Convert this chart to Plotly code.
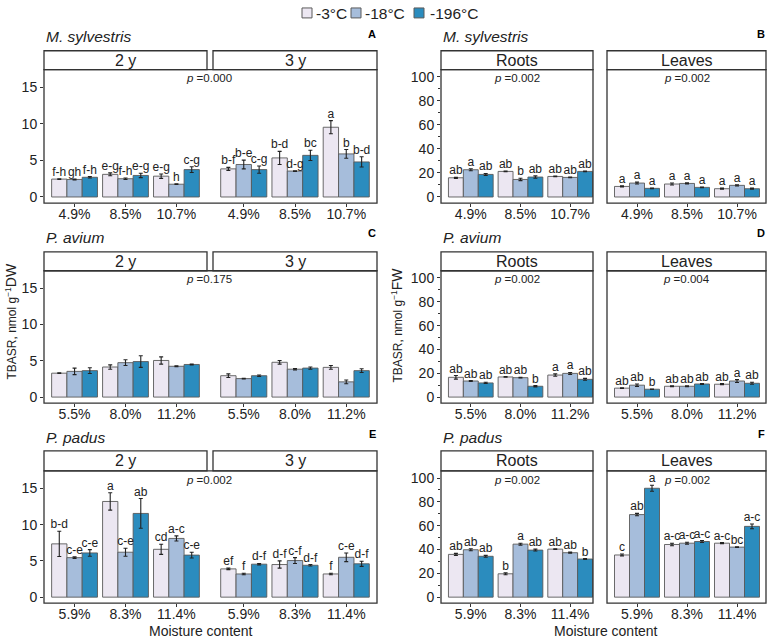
import plotly.graph_objects as go

W, H = 768, 642
temps = ["-3°C", "-18°C", "-196°C"]
colors = ["#ECE7F2", "#A6BDDB", "#2B8CBE"]

moist_msyl = ["4.9%", "8.5%", "10.7%"]
moist_pav = ["5.5%", "8.0%", "11.2%"]
moist_ppad = ["5.9%", "8.3%", "11.4%"]

# ---- Panel A: M. sylvestris seeds (outer index = temperature, inner = moisture)
A_2y_mean = [[2.45, 3.1, 2.85], [2.4, 2.5, 1.75], [2.7, 2.95, 3.75]]
A_2y_err = [[0.05, 0.2, 0.3], [0.05, 0.1, 0.05], [0.1, 0.3, 0.4]]
A_2y_lab = [["f-h", "e-g", "e-g"], ["gh", "f-h", "h"], ["f-h", "e-g", "c-g"]]
A_3y_mean = [[3.85, 5.35, 9.55], [4.45, 3.55, 5.9], [3.75, 5.7, 4.8]]
A_3y_err = [[0.2, 0.9, 0.9], [0.6, 0.05, 0.6], [0.5, 0.7, 0.7]]
A_3y_lab = [["b-f", "b-d", "a"], ["b-e", "d-g", "b"], ["c-g", "bc", "b-d"]]

# ---- Panel B: M. sylvestris seedlings
B_roots_mean = [[16.0, 21.3, 17.1], [22.7, 14.6, 16.3], [18.8, 16.6, 21.3]]
B_roots_err = [[0.5, 0.3, 0.3], [0.8, 1.0, 0.3], [0.8, 1.0, 0.3]]
B_roots_lab = [["ab", "ab", "ab"], ["a", "b", "ab"], ["ab", "ab", "ab"]]
B_leaves_mean = [[8.8, 10.8, 6.9], [11.6, 11.3, 9.7], [7.2, 8.0, 6.9]]
B_leaves_err = [[0.5, 0.8, 0.5], [0.8, 0.5, 0.5], [0.3, 0.3, 0.5]]
B_leaves_lab = [["a", "a", "a"], ["a", "a", "a"], ["a", "a", "a"]]

# ---- Panel C: P. avium seeds
C_2y_mean = [[3.3, 4.15, 5.05], [3.55, 4.75, 4.25], [3.65, 4.9, 4.5]]
C_2y_err = [[0.05, 0.3, 0.5], [0.45, 0.4, 0.05], [0.4, 0.8, 0.05]]
C_3y_mean = [[2.95, 4.8, 4.1], [2.55, 3.85, 2.1], [2.95, 4.0, 3.65]]
C_3y_err = [[0.25, 0.25, 0.25], [0.05, 0.1, 0.25], [0.1, 0.15, 0.25]]

# ---- Panel D: P. avium seedlings
D_roots_mean = [[16.6, 16.9, 18.5], [13.5, 16.3, 19.9], [11.9, 9.1, 14.9]]
D_roots_err = [[1.5, 0.3, 1.0], [0.3, 0.3, 0.8], [0.5, 0.5, 0.8]]
D_roots_lab = [["ab", "ab", "a"], ["ab", "ab", "a"], ["ab", "b", "ab"]]
D_leaves_mean = [[7.5, 9.1, 10.8], [10.0, 9.1, 13.5], [6.6, 11.0, 11.6]]
D_leaves_err = [[0.3, 0.3, 0.5], [1.0, 0.3, 1.2], [0.2, 0.3, 0.8]]
D_leaves_lab = [["ab", "ab", "ab"], ["ab", "ab", "a"], ["b", "ab", "ab"]]

# ---- Panel E: P. padus seeds
E_2y_mean = [[7.35, 13.2, 6.6], [5.45, 6.2, 8.1], [6.1, 11.55, 5.8]]
E_2y_err = [[1.75, 1.2, 0.7], [0.1, 0.55, 0.35], [0.45, 2.05, 0.4]]
E_2y_lab = [["b-d", "a", "cd"], ["c-e", "c-e", "a-c"], ["c-e", "ab", "c-e"]]
E_3y_mean = [[3.9, 4.5, 3.2], [3.2, 5.05, 5.5], [4.55, 4.4, 4.6]]
E_3y_err = [[0.1, 0.5, 0.1], [0.1, 0.4, 0.6], [0.1, 0.1, 0.35]]
E_3y_lab = [["ef", "d-f", "f"], ["f", "c-f", "c-e"], ["d-f", "d-f", "d-f"]]

# ---- Panel F: P. padus seedlings
F_roots_mean = [[35.9, 19.6, 40.3], [39.8, 44.5, 37.3], [34.3, 39.5, 32.0]]
F_roots_err = [[0.8, 0.8, 0.3], [0.8, 0.8, 0.5], [0.8, 0.8, 0.3]]
F_roots_lab = [["ab", "b", "ab"], ["ab", "a", "ab"], ["ab", "ab", "b"]]
F_leaves_mean = [[35.4, 44.2, 45.3], [69.3, 45.3, 42.0], [91.4, 46.7, 59.4]]
F_leaves_err = [[0.8, 1.0, 0.5], [1.0, 0.8, 0.3], [2.5, 0.8, 2.0]]
F_leaves_lab = [["c", "a-c", "a-c"], ["ab", "a-c", "bc"], ["a", "a-c", "a-c"]]

species = ["M. sylvestris", "P. avium", "P. padus"]
p_seeds = ["0.000", "0.175", "0.002"]
p_roots = ["0.002", "0.002", "0.002"]
p_leaves = ["0.002", "0.004", "0.002"]

panels = [
    dict(row=0, col=0, letter="A", cats=moist_msyl, strips=["2 y", "3 y"],
         facets=[(A_2y_mean, A_2y_err, A_2y_lab), (A_3y_mean, A_3y_err, A_3y_lab)],
         pvals=[p_seeds[0]]),
    dict(row=0, col=1, letter="B", cats=moist_msyl, strips=["Roots", "Leaves"],
         facets=[(B_roots_mean, B_roots_err, B_roots_lab), (B_leaves_mean, B_leaves_err, B_leaves_lab)],
         pvals=[p_roots[0], p_leaves[0]]),
    dict(row=1, col=0, letter="C", cats=moist_pav, strips=["2 y", "3 y"],
         facets=[(C_2y_mean, C_2y_err, None), (C_3y_mean, C_3y_err, None)],
         pvals=[p_seeds[1]]),
    dict(row=1, col=1, letter="D", cats=moist_pav, strips=["Roots", "Leaves"],
         facets=[(D_roots_mean, D_roots_err, D_roots_lab), (D_leaves_mean, D_leaves_err, D_leaves_lab)],
         pvals=[p_roots[1], p_leaves[1]]),
    dict(row=2, col=0, letter="E", cats=moist_ppad, strips=["2 y", "3 y"],
         facets=[(E_2y_mean, E_2y_err, E_2y_lab), (E_3y_mean, E_3y_err, E_3y_lab)],
         pvals=[p_seeds[2]]),
    dict(row=2, col=1, letter="F", cats=moist_ppad, strips=["Roots", "Leaves"],
         facets=[(F_roots_mean, F_roots_err, F_roots_lab), (F_leaves_mean, F_leaves_err, F_leaves_lab)],
         pvals=[p_roots[2], p_leaves[2]]),
]

# ---- layout geometry (pixels)
FACET_X = {0: [(44, 207), (213, 377)], 1: [(441, 593), (607, 766)]}
FACET_RANGE = {0: [(-0.6, 2.6), (-0.6, 2.6)], 1: [(-0.6, 2.46), (-0.6, 2.58)]}
ROW_Y = [(50, 69, 203), (252, 271, 404), (452, 472, 605)]  # strip top, panel top, panel bottom
TITLE_Y = [36, 238, 439]
LETTER_Y = [33, 233, 435]
P_Y = [77, 279, 481]
Y_RANGE = {0: [-0.83, 17.43], 1: [-5.05, 106.05]}

FONT = "Arial, Liberation Sans, sans-serif"
INK = "#222222"
BORDER = "#333333"


def fx(px):
    return px / W


def fy(py):
    return 1 - py / H


fig = go.Figure()
shapes = []
annotations = []
layout_axes = {}

bw = 0.3
for pi, pn in enumerate(panels):
    r, c = pn["row"], pn["col"]
    st, pt, pb = ROW_Y[r]
    yname = f"y{pi + 1}" if pi > 0 else "y"
    ykey = f"yaxis{pi + 1}" if pi > 0 else "yaxis"
    for fi, (means, errs, labs) in enumerate(pn["facets"]):
        xn = pi * 2 + fi + 1
        xname = f"x{xn}" if xn > 1 else "x"
        xkey = f"xaxis{xn}" if xn > 1 else "xaxis"
        x0, x1 = FACET_X[c][fi]
        layout_axes[xkey] = dict(
            domain=[fx(x0), fx(x1)], anchor=yname, range=list(FACET_RANGE[c][fi]),
            tickvals=[0, 1, 2], ticktext=pn["cats"], ticks="outside", ticklen=3,
            tickcolor=BORDER, tickwidth=1, showline=False, showgrid=False, zeroline=False,
            ticklabelstandoff=-5,
            tickfont=dict(size=14, color=INK, family=FONT), fixedrange=True,
        )
        for k in range(3):
            xs = [i + (k - 1) * bw for i in range(3)]
            fig.add_trace(go.Bar(
                x=xs, y=means[k], width=bw, name=temps[k], legendgroup=temps[k],
                showlegend=False,
                marker=dict(color=colors[k], line=dict(color="#5a5a5a", width=0.9)),
                error_y=dict(type="data", array=errs[k], color="#222222", thickness=1.1, width=2),
                xaxis=xname, yaxis=yname,
            ))
            if labs is not None:
                fig.add_trace(go.Scatter(
                    x=xs, y=[m + e for m, e in zip(means[k], errs[k])], text=labs[k],
                    mode="text", textposition="top center",
                    textfont=dict(size=12, color=INK, family=FONT),
                    showlegend=False, hoverinfo="skip", xaxis=xname, yaxis=yname,
                ))
        # strip
        shapes.append(dict(type="rect", xref="paper", yref="paper",
                           x0=fx(x0), x1=fx(x1), y0=fy(pt), y1=fy(st),
                           fillcolor="white", line=dict(color=BORDER, width=1.3), layer="above"))
        annotations.append(dict(text=pn["strips"][fi], xref="paper", yref="paper",
                                x=fx((x0 + x1) / 2), y=fy((st + pt) / 2), showarrow=False,
                                xanchor="center", yanchor="middle",
                                font=dict(size=16, color=INK, family=FONT)))
        if c == 1:
            shapes.append(dict(type="rect", xref="paper", yref="paper",
                               x0=fx(x0), x1=fx(x1), y0=fy(pb), y1=fy(pt),
                               line=dict(color=BORDER, width=1.3), layer="above"))
            annotations.append(dict(text=f"<i>p</i> ={pn['pvals'][fi]}", xref="paper", yref="paper",
                                    x=fx((x0 + x1) / 2), y=fy(P_Y[r]), showarrow=False,
                                    xanchor="center", yanchor="middle",
                                    font=dict(size=11.5, color=INK, family=FONT)))
    xl = FACET_X[c][0][0]
    xr = FACET_X[c][1][1]
    if c == 0:
        shapes.append(dict(type="rect", xref="paper", yref="paper",
                           x0=fx(xl), x1=fx(xr), y0=fy(pb), y1=fy(pt),
                           line=dict(color=BORDER, width=1.3), layer="above"))
        annotations.append(dict(text=f"<i>p</i> ={pn['pvals'][0]}", xref="paper", yref="paper",
                                x=fx(209), y=fy(P_Y[r]), showarrow=False,
                                xanchor="center", yanchor="middle",
                                font=dict(size=11.5, color=INK, family=FONT)))
    ydict = dict(
        domain=[fy(pb), fy(pt)], anchor=("x" if pi == 0 else f"x{pi * 2 + 1}"),
        range=Y_RANGE[c], ticks="outside", ticklen=3, tickcolor=BORDER, tickwidth=1,
        showline=False, showgrid=False, zeroline=False, fixedrange=True,
        tickfont=dict(size=14, color=INK, family=FONT),
    )
    if c == 0:
        ydict["tickvals"] = [0, 5, 10, 15]
    else:
        ydict["tickvals"] = [0, 20, 40, 60, 80, 100]
        ydict["minor"] = dict(tickvals=[10, 30, 50, 70, 90], ticks="outside", ticklen=2,
                              tickcolor=BORDER)
    layout_axes[ykey] = ydict
    # species title
    annotations.append(dict(text=f"<i>{species[r]}</i>", xref="paper", yref="paper",
                            x=fx(xl), y=fy(TITLE_Y[r]), showarrow=False,
                            xanchor="left", yanchor="middle",
                            font=dict(size=15.5, color=INK, family=FONT)))
    annotations.append(dict(text=f"<b>{pn['letter']}</b>", xref="paper", yref="paper",
                            x=fx(xr + 1), y=fy(LETTER_Y[r]), showarrow=False,
                            xanchor="right", yanchor="middle",
                            font=dict(size=11, color="#000000", family=FONT)))

# legend (drawn as keys + labels at the top)
LEG_SQ_X = [302, 351, 414]
for k in range(3):
    sx = LEG_SQ_X[k]
    shapes.append(dict(type="rect", xref="paper", yref="paper",
                       x0=fx(sx), x1=fx(sx + 10), y0=fy(17), y1=fy(7),
                       fillcolor=colors[k], line=dict(color="#5a5a5a", width=1)))
    annotations.append(dict(text=temps[k], xref="paper", yref="paper",
                            x=fx(sx + 11.5 + (2 if k == 2 else 0)), y=fy(12.5), showarrow=False,
                            xanchor="left", yanchor="middle",
                            font=dict(size=15.5, color=INK, family=FONT)))

# axis titles
annotations.append(dict(text="TBASR, nmol g<sup>−1</sup><span style='font-size:14px'>DW</span>",
                        xref="paper", yref="paper", x=fx(11), y=fy(322), showarrow=False,
                        textangle=-90, xanchor="center", yanchor="middle",
                        font=dict(size=12, color=INK, family=FONT)))
annotations.append(dict(text="TBASR, nmol g<sup>−1</sup><span style='font-size:14px'>FW</span>",
                        xref="paper", yref="paper", x=fx(397), y=fy(326), showarrow=False,
                        textangle=-90, xanchor="center", yanchor="middle",
                        font=dict(size=12, color=INK, family=FONT)))
for xc in (201, 606):
    annotations.append(dict(text="Moisture content", xref="paper", yref="paper",
                            x=fx(xc), y=fy(633), showarrow=False,
                            xanchor="center", yanchor="middle",
                            font=dict(size=14, color=INK, family=FONT)))

fig.update_layout(
    width=W, height=H, autosize=False,
    margin=dict(l=0, r=0, t=0, b=0),
    paper_bgcolor="white", plot_bgcolor="white",
    barmode="overlay", showlegend=False,
    font=dict(family=FONT, color=INK),
    shapes=shapes, annotations=annotations,
    **layout_axes,
)

fig.write_html("out.html", config={"displayModeBar": False},
               post_script="document.body.style.margin='0';document.body.style.padding='0';")
